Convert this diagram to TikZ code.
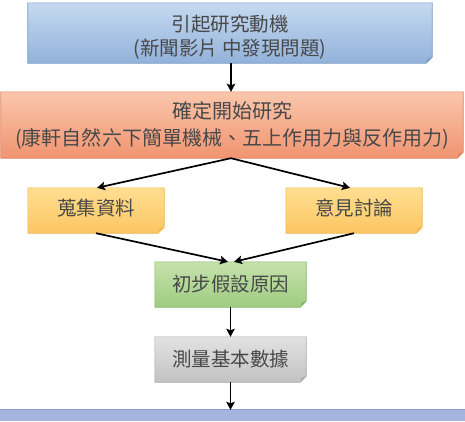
\documentclass[tikz,border=0pt]{standalone}
\usepackage{fontspec}
\setmainfont{Noto Sans CJK TC}
\usetikzlibrary{arrows.meta,backgrounds}
\definecolor{txt}{RGB}{72,72,72}
\definecolor{blueT}{RGB}{197,217,241}
\definecolor{blueB}{RGB}{146,178,218}
\definecolor{blueD}{RGB}{120,152,196}
\definecolor{oraT}{RGB}{250,198,172}
\definecolor{oraB}{RGB}{240,148,112}
\definecolor{oraD}{RGB}{224,128,92}
\definecolor{yelT}{RGB}{255,222,145}
\definecolor{yelB}{RGB}{252,198,98}
\definecolor{yelD}{RGB}{236,182,80}
\definecolor{grnT}{RGB}{198,226,172}
\definecolor{grnB}{RGB}{158,204,128}
\definecolor{grnD}{RGB}{132,180,104}
\definecolor{gryT}{RGB}{226,226,226}
\definecolor{gryB}{RGB}{194,194,194}
\definecolor{gryD}{RGB}{168,168,168}
\definecolor{botF}{RGB}{165,181,221}
\definecolor{botD}{RGB}{140,158,205}
\newcommand\foldshape[4]{%
  \shadedraw[top color=#2,bottom color=#3,draw=#4,line width=0.6bp]
    (#1.north west) -- (#1.north east) -- ([yshift=6bp]#1.south east)
    -- ([xshift=-6bp]#1.south east) -- (#1.south west) -- cycle;
  \fill[#4] ([yshift=6bp]#1.south east) -- ([xshift=-6bp]#1.south east)
    -- ([xshift=-4.5bp,yshift=4.5bp]#1.south east) -- cycle;
}
\newcommand\upstrut{\rule{0pt}{25bp}}
\newcommand\dnstrut{\rule[-7bp]{0pt}{7bp}}
\tikzset{
  box/.style={inner sep=0pt,align=center,text=txt,
    font=\fontsize{19.5bp}{24bp}\selectfont},
  arr/.style={-{Stealth[length=8bp,width=8.5bp,inset=1.5bp]},line width=1.7bp,black}
}
\begin{document}
\begin{tikzpicture}[x=1bp,y=-1bp]
\useasboundingbox (0,0) rectangle (465,421);
\node[box,minimum width=404bp,minimum height=60bp] (motive) at (230,33)
  {\upstrut 引起研究動機\\(新聞影片 中發現問題)};
\node[box,minimum width=462bp,minimum height=66bp,
  font=\fontsize{20bp}{27bp}\selectfont] (start) at (232,125)
  {確定開始研究\\(康軒自然六下簡單機械、五上作用力與反作用力)};
\node[box,minimum width=136bp,minimum height=45bp] (collect) at (96,210.5) {蒐集資料\dnstrut};
\node[box,minimum width=136bp,minimum height=45bp] (discuss) at (354,210.5) {意見討論\dnstrut};
\node[box,minimum width=151bp,minimum height=45bp] (hyp) at (230.5,284.5) {初步假設原因};
\node[box,minimum width=151bp,minimum height=45bp] (measure) at (230.5,359.5) {測量基本數據};
\node[inner sep=0pt,minimum width=465bp,minimum height=11bp] (nextstep) at (232.5,415.5) {};
\begin{pgfonlayer}{background}
  \foldshape{motive}{blueT}{blueB}{blueD}
  \foldshape{start}{oraT}{oraB}{oraD}
  \foldshape{collect}{yelT}{yelB}{yelD}
  \foldshape{discuss}{yelT}{yelB}{yelD}
  \foldshape{hyp}{grnT}{grnB}{grnD}
  \foldshape{measure}{gryT}{gryB}{gryD}
  \fill[botF] (nextstep.north west) rectangle (nextstep.south east);
  \draw[botD,line width=0.8bp] (nextstep.north west) -- (nextstep.north east);
\end{pgfonlayer}
\draw[arr] ([xshift=1bp]motive.south) -- ([xshift=1bp]motive.south |- start.north);
\draw[arr] ([xshift=-1bp]start.south) -- ([xshift=1bp]collect.north);
\draw[arr] ([xshift=-1bp]start.south) -- ([xshift=-4bp]discuss.north);
\draw[arr] (collect.south) -- ([xshift=-2.5bp]hyp.north);
\draw[arr] (discuss.south) -- ([xshift=3.5bp]hyp.north);
\draw[arr] (hyp.south) -- (measure.north);
\draw[arr] (measure.south) -- (measure.south |- nextstep.north);
\end{tikzpicture}
\end{document}
